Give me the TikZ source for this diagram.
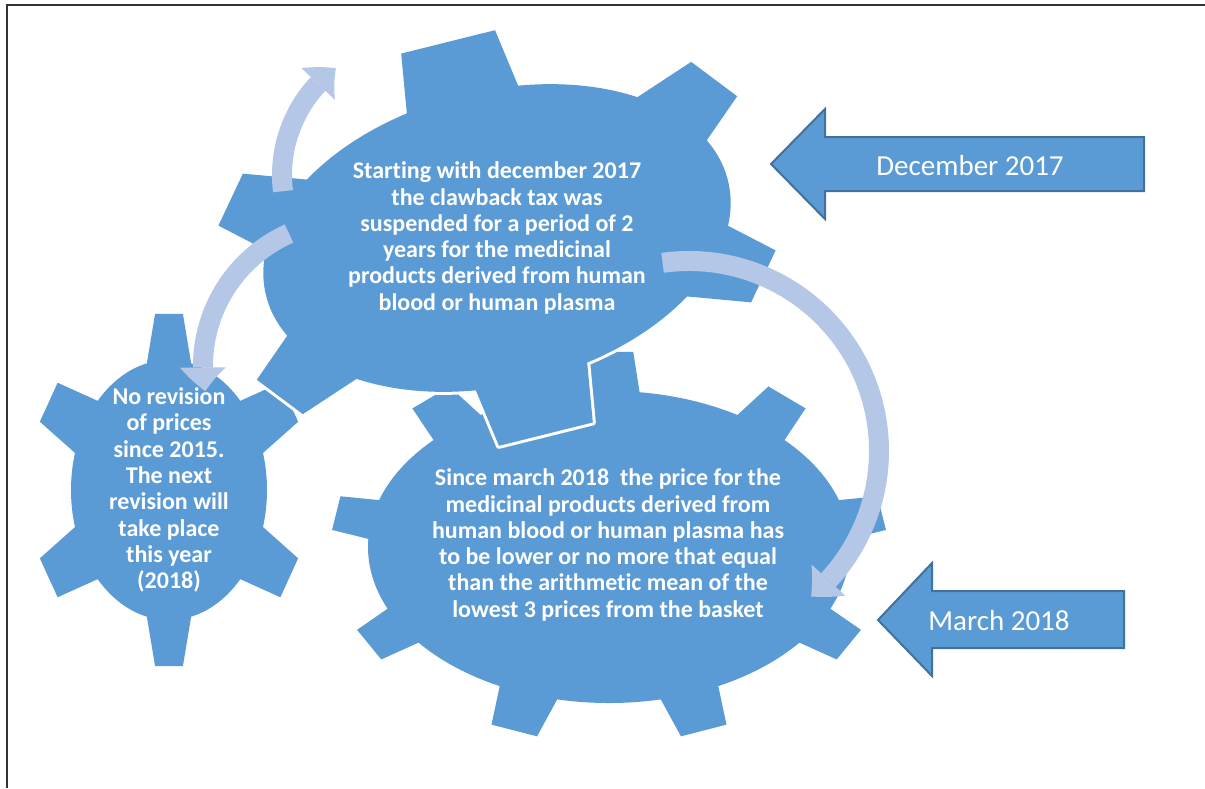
\documentclass[tikz,border=0pt]{standalone}
\usepackage{fontspec}
\setmainfont{Carlito}[Ligatures=NoCommon]
\usetikzlibrary{arrows.meta,bending}

\definecolor{gearblue}{HTML}{5B9BD5}
\definecolor{gearedge}{HTML}{41719C}
\definecolor{turnblue}{HTML}{B4C7E7}

\tikzset{
	frameline/.style={draw=black!80,line width=1.5pt},
	gearface/.style={fill=gearblue},
	gearrim/.style={fill=gearblue,draw=white,line width=6pt,line join=round},
	gearlabel/.style={align=center,text=white,inner sep=0pt,
		font=\bfseries\fontsize{24}{26.3}\selectfont},
	spinarrow/.style={draw=turnblue,line width=20pt,
		-{Triangle[width=46pt,length=24pt,line width=0pt,bend]}},
	datearrow/.style={fill=gearblue,draw=gearedge,line width=2pt,line join=miter},
	datelabel/.style={text=white,inner sep=0pt,font=\fontsize{29}{35}\selectfont},
}

% body radii, tooth-root radii, tooth-tip radii, then angle/tip half-angle/root half-angle
\newcommand\cogwheel[7]{%
	\foreach \pass in {gearrim,gearface}{
		\path[\pass] (0,0) ellipse[x radius=#1,y radius=#2];
		\foreach \a/\t/\b in {#7}{
			\pgfmathsetmacro\rootlo{\a-\b}
			\pgfmathsetmacro\roothi{\a+\b}
			\pgfmathsetmacro\tiplo{\a-\t}
			\pgfmathsetmacro\tiphi{\a+\t}
			\path[\pass] (\rootlo:#3 and #4) -- (\tiplo:#5 and #6)
				-- (\tiphi:#5 and #6) -- (\roothi:#3 and #4) -- cycle;
		}
	}}

\begin{document}
\begin{tikzpicture}[x=1pt,y=-1pt]
	\useasboundingbox (0,0) rectangle (1205,788);
	\draw[frameline] (7,788) -- (7,5) -- (1205,5);

	% left gear
	\begin{scope}[shift={(169,490)}]
		\cogwheel{98}{130}{93}{124}{140}{177}
			{30/7.3/14.5,90/5.7/14.5,150/7.3/14.5,210/7.3/14.5,270/5.7/14.5,330/7.3/14.5}
	\end{scope}
	% lower gear
	\begin{scope}[shift={(609,547)}]
		\cogwheel{241}{156}{229}{148}{278}{196}
			{270/5/8,310/5/8,350/5/8,30/5/8,70/5/8,110/5/8,150/5/8,190/5/8,230/5/8}
	\end{scope}
	% upper gear, turned
	\begin{scope}[shift={(497,238)},rotate=14]
		\cogwheel{238}{147}{226}{140}{290}{205}
			{30/7.2/15,90/9.6/15,150/7.2/15,210/7.2/15,270/9.6/15,330/7.2/15}
	\end{scope}

	\node[gearlabel] (clawtext) at (497,238) {Starting with december 2017\\the clawback tax was\\suspended for a period of 2\\years for the medicinal\\products derived from human\\blood or human plasma};
	\node[gearlabel] (pricetext) at (608,545) {Since march 2018\ \ the price for the\\medicinal products derived from\\human blood or human plasma has\\to be lower or no more that equal\\than the arithmetic mean of the\\lowest 3 prices from the basket};
	\node[gearlabel] (revisiontext) at (169,490) {No revision\\of prices\\since 2015.\\The next\\revision will\\take place\\this year\\(2018)};

	% turning arrows
	\coordinate (hubA) at (415,175);
	\coordinate (hubB) at (348,366);
	\coordinate (hubC) at (689,451);
	\draw[spinarrow] (hubA) ++(173:133) arc[start angle=173,end angle=233.5,radius=133];
	\draw[spinarrow] (hubB) ++(246:145) arc[start angle=246,end angle=170,radius=145];
	\draw[spinarrow] (hubC) ++(-98:190) arc[start angle=-98,end angle=50,radius=190];

	% date arrows
	\draw[datearrow] (771,164) -- (825,109) -- (825,137) -- (1144,137) -- (1144,191) -- (825,191) -- (825,219) -- cycle;
	\node[datelabel] (dectag) at (970,166) {December 2017};
	\draw[datearrow] (878,620) -- (932,563) -- (932,591) -- (1124,591) -- (1124,648) -- (932,648) -- (932,676) -- cycle;
	\node[datelabel] (martag) at (999,621) {March 2018};
\end{tikzpicture}
\end{document}
